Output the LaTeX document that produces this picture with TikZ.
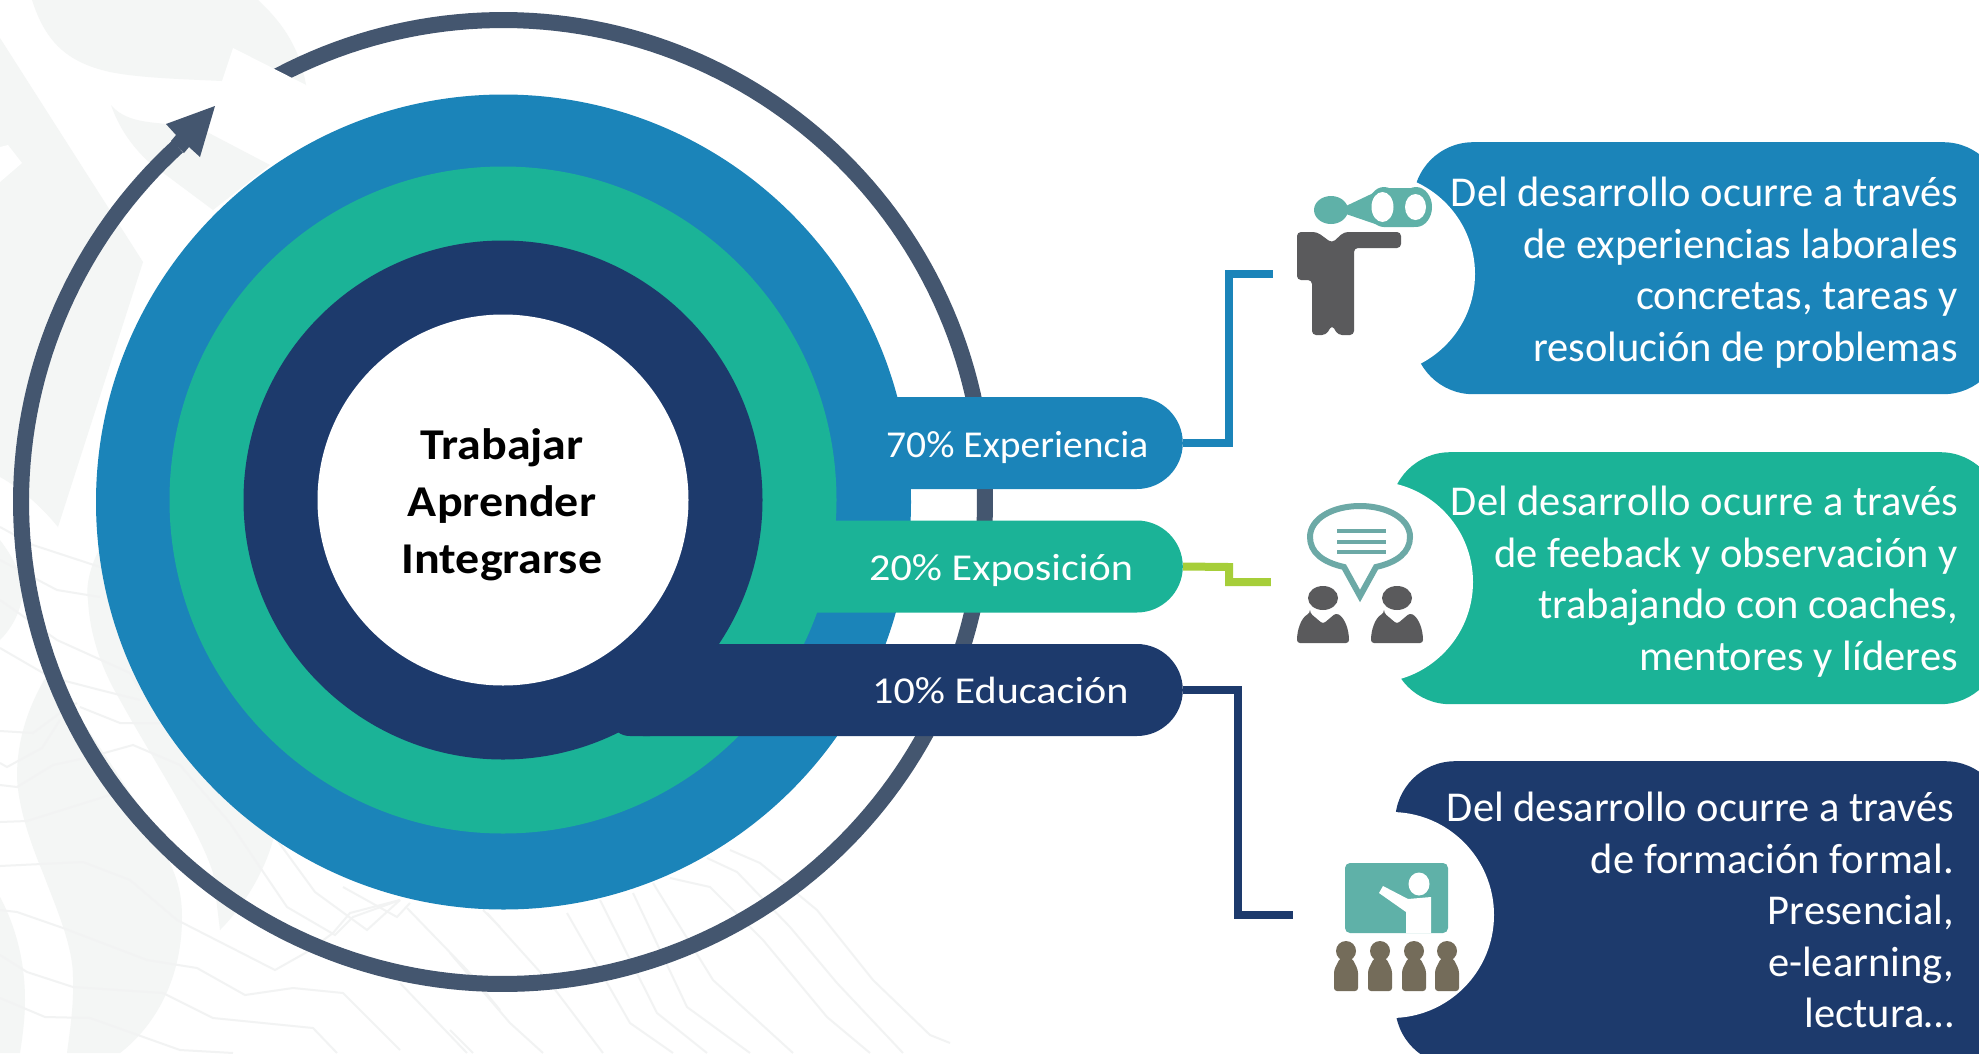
\documentclass[tikz,border=0pt]{standalone}
\usepackage{fontspec}
\setmainfont{Carlito}
\newfontfamily\labA[FakeStretch=1.04]{Carlito}
\newfontfamily\labB[FakeStretch=1.11]{Carlito}
\newfontfamily\hubfont[FakeStretch=1.09]{Carlito}
\usetikzlibrary{shapes.misc}
\definecolor{cblue}{HTML}{1B84B9}
\definecolor{cgreen}{HTML}{1BB397}
\definecolor{cnavy}{HTML}{1D3A6C}
\definecolor{cring}{HTML}{44566F}
\definecolor{clime}{HTML}{A6CE39}
\definecolor{cteal}{HTML}{5FB1A8}
\definecolor{cbub}{HTML}{6CA9A6}
\definecolor{cgrey}{HTML}{5A5A5C}
\definecolor{cbrown}{HTML}{746C5A}
\definecolor{wm}{HTML}{F4F6F5}
\definecolor{wl}{HTML}{F2F3F3}
\tikzset{
  disc/.style={circle,inner sep=0pt,draw=none},
  pill/.style={rounded rectangle,rounded rectangle west arc=none,inner sep=0pt,minimum height=92pt,anchor=east},
  boxnode/.style={rectangle,rounded corners=60pt,inner sep=0pt,anchor=north west},
  iconspot/.style={circle,fill=white,inner sep=0pt,minimum size=202pt},
  link/.style={line width=8pt,line join=miter},
  plabel/.style={text=white,inner sep=0pt,anchor=base west},
  btext/.style={text=white,inner sep=0pt,anchor=north east,align=right,font=\fontsize{42.5}{51.5}\selectfont},
  wline/.style={draw=wl,line width=2pt,line join=miter},
}
\begin{document}
\begin{tikzpicture}[x=1pt,y=-1pt]
\useasboundingbox (0,0) rectangle (1979,1053);
\clip (0,0) rectangle (1979,1053);
\fill[white] (0,0) rectangle (1979,1053);
% watermark
\fill[wm] (32,0) .. controls (45,40) and (65,62) .. (110,72) .. controls (140,78) and (180,79) .. (222,81) -- (306,85) .. controls (300,50) and (285,25) .. (258,0) -- cycle;
\fill[wm] (111,105) .. controls (125,122) and (150,122) .. (166,124) -- (207,132) -- (270,165) -- (213,210) -- (150,163) .. controls (130,145) and (118,125) .. (111,105) -- cycle;
\fill[wm] (0,38) -- (143,262) -- (58,527) .. controls (40,505) and (20,488) .. (0,477) -- cycle;
\fill[white] (0,147) -- (8,145) -- (22,163) -- (0,182) -- cycle;
\fill[wm] (0,540) .. controls (15,560) and (22,575) .. (23,593) .. controls (20,615) and (10,630) .. (0,640) -- cycle;
\fill[wm] (100,548) .. controls (88,570) and (86,590) .. (88,600) .. controls (90,640) and (105,675) .. (120,700) .. controls (150,755) and (200,830) .. (213,873) -- (220,930) .. controls (245,905) and (265,870) .. (273,840) -- (300,600) -- cycle;
\fill[wm] (50,670) .. controls (25,710) and (17,745) .. (17,777) .. controls (18,800) and (25,830) .. (43,873) .. controls (55,905) and (73,945) .. (73,977) .. controls (74,1005) and (70,1030) .. (67,1053) -- (120,1053) .. controls (150,1030) and (182,985) .. (182,917) .. controls (182,890) and (175,875) .. (170,863) .. controls (140,800) and (85,730) .. (50,670) -- cycle;
\fill[wm] (0,897) .. controls (15,925) and (25,960) .. (25,1000) .. controls (25,1020) and (22,1040) .. (20,1053) -- (0,1053) -- cycle;
\draw[wline] (0,866) -- (83,862) -- (130,880) -- (177,920) -- (275,970) -- (307,952) -- (333,933) -- (350,913) -- (400,900);
\draw[wline] (0,910) -- (17,912) -- (63,928) -- (147,960) -- (197,968) -- (245,995) -- (293,988) -- (343,993) -- (400,1050);
\draw[wline] (0,955) -- (27,972) -- (73,987) -- (163,993) -- (213,1018) -- (313,1028) -- (337,1053);
\draw[wline] (0,998) -- (45,1017) -- (90,1018) -- (180,1050) -- (233,1053);
\draw[wline] (0,822) -- (27,821) -- (110,795);
\draw[wline] (0,785) -- (17,787) -- (53,765) -- (90,757) -- (133,745) -- (180,765) -- (230,823) -- (287,907) -- (335,935) -- (353,917) -- (400,900);
\draw[wline] (0,763) -- (7,767) -- (42,748) -- (60,720);
\draw[wline] (0,731) -- (33,733) -- (60,713) -- (77,703);
\draw[wline] (80,707) -- (120,723) -- (160,723);
\draw[wline] (0,527) -- (33,545) -- (100,567);
\draw[wline] (0,560) -- (57,590) -- (100,597);
\draw[wline] (0,600) -- (57,640) -- (130,673) -- (140,690);
\draw[wline] (0,648) -- (50,677) -- (100,690) -- (140,700);
\draw[wline] (487,913) -- (550,983) -- (603,1053);
\draw[wline] (567,913) -- (630,1023) -- (673,1053);
\draw[wline] (600,900) -- (657,1013) -- (707,1053);
\draw[wline] (633,893) -- (687,1007) -- (750,1053);
\draw[wline] (653,883) -- (713,980) -- (793,1053);
\draw[wline] (670,878) -- (710,887) -- (763,940) -- (827,1017) -- (870,1053);
\draw[wline] (707,858) -- (737,872) -- (790,927) -- (837,983) -- (903,1053);
\draw[wline] (730,850) -- (760,863) -- (817,910) -- (873,980) -- (930,1035) -- (950,1043);
\draw[wline] (450,953) -- (510,1023) -- (543,1053);
\draw[wline] (450,1030) -- (473,1053);
\draw[wline] (277,840) -- (315,892) -- (367,930) -- (400,900);
\draw[wline] (343,887) -- (397,917) -- (410,903);
\draw[wline] (407,908) -- (467,970) -- (500,1010);
\draw[wline] (400,983) -- (467,1053);
\draw[wline] (483,910) -- (500,927);
% ring with arrow
\draw[cring,line width=16pt] plot[domain=125:-227.5,samples=240] ({503+482*cos(\x)},{502-482*sin(\x)});
\fill[white] (222,81) -- (233,48) -- (306,85) -- (240,145) -- (190,100) -- cycle;
\fill[cring] (215,106) -- (166,124) -- (176,135) -- (171,141) -- (184,153) -- (189,147) -- (200,157) -- cycle;
% discs
\node[disc,fill=cblue,minimum size=815pt] (d1) at (503.5,502) {};
\node[disc,fill=cgreen,minimum size=667pt] (d2) at (503,500) {};
\node[disc,fill=cnavy,minimum size=519pt] (d3) at (503,500) {};
% pills
\node[pill,fill=cblue,minimum width=303pt] (p1) at (1183,443) {};
\node[pill,fill=cgreen,minimum width=400pt] (p2) at (1183,566.5) {};
\node[pill,fill=cnavy,minimum width=540pt] (p3) at (1183,690) {};
\fill[cnavy] (650,644) -- (610,644) -- (610,722) .. controls (614,730) and (620,736) .. (630,736) -- (650,736) -- cycle;
\node[disc,fill=white,minimum size=371pt] (hub) at (503,500) {};
\node[inner sep=0pt,align=center,font=\hubfont\bfseries\fontsize{44}{57}\selectfont,text=black] (hubt) at (502,505) {Trabajar\\Aprender\\Integrarse};
\node[plabel,font=\labA\fontsize{38}{44}\selectfont] (l1) at (886,457) {70\% Experiencia};
\node[plabel,font=\labB\fontsize{38}{44}\selectfont] (l2) at (869,580) {20\% Exposición};
\node[plabel,font=\labB\fontsize{38}{44}\selectfont] (l3) at (872,703) {10\% Educación};
% boxes
\node[boxnode,fill=cblue,minimum width=590pt,minimum height=252pt] (b1) at (1413,142) {};
\node[boxnode,fill=cgreen,minimum width=610pt,minimum height=252pt] (b2) at (1390,452) {};
\node[boxnode,fill=cnavy,minimum width=610pt,minimum height=304pt] (b3) at (1395,761) {};
\node[iconspot] (c1) at (1374,274) {};
\node[iconspot] (c2) at (1372,582) {};
\node[iconspot,minimum size=206pt] (c3) at (1391,915) {};
\node[btext] (t1) at (1958,177) {Del desarrollo ocurre a través\\de experiencias laborales\\concretas, tareas y\\resolución de problemas};
\node[btext] (t2) at (1958,486) {Del desarrollo ocurre a través\\de feeback y observación y\\trabajando con coaches,\\mentores y líderes};
\node[btext] (t3) at (1954,792) {Del desarrollo ocurre a través\\de formación formal.\\Presencial,\\e-learning,\\lectura…};
% connectors
\coordinate (j1a) at (1229,443);
\coordinate (j1b) at (1229,274);
\coordinate (j2a) at (1229,567);
\coordinate (j2b) at (1229,582);
\coordinate (j3a) at (1238,690);
\coordinate (j3b) at (1238,915);
\draw[link,cblue] (p1.east) -- (j1a) -- (j1b) -- (c1.west);
\draw[link,clime] (p2.east) -- (j2a) -- (j2b) -- (c2.west);
\draw[link,cnavy] (p3.east) -- (j3a) -- (j3b) -- ([xshift=5pt]c3.west);
% icon 1
\fill[cteal] (1331,210) ellipse [x radius=17,y radius=14];
\fill[cteal] (1346,206) -- (1384,188) -- (1414,188) -- (1414,227) -- (1384,227) -- (1346,214) -- cycle;
\fill[cteal] (1384,207) ellipse [x radius=16,y radius=20];
\fill[cteal] (1416,207) ellipse [x radius=16,y radius=20];
\fill[white] (1382.5,207) ellipse [x radius=11,y radius=15];
\fill[white] (1415.5,207) ellipse [x radius=10.5,y radius=13];
\fill[cgrey,rounded corners=4pt] (1317,232) -- (1332,243) -- (1344,232) -- (1401,232) -- (1401,248) -- (1354,248) -- (1354,335) -- (1338,335) -- (1332,325) -- (1326,335) -- (1312,335) -- (1312,280) -- (1297,280) -- (1297,232) -- cycle;
% icon 2
\draw[cbub,line width=6pt,fill=white] (1344,567) .. controls (1322,562) and (1310,552) .. (1310,537) .. controls (1310,519) and (1332,506) .. (1360,506) .. controls (1388,506) and (1410,519) .. (1410,537) .. controls (1410,552) and (1398,562) .. (1376,567) -- (1360,596) -- cycle;
\foreach \yy in {531,542,552} \draw[cbub,line width=4.5pt] (1337,\yy) -- (1386,\yy);
\foreach \xx in {1323,1397}{
  \fill[cgrey] (\xx,598) ellipse [x radius=15,y radius=12];
  \fill[cgrey,rounded corners=3pt] (\xx-13,613) -- (\xx,624) -- (\xx+13,613) .. controls (\xx+22,618) and (\xx+26,630) .. (\xx+26,643) -- (\xx-26,643) .. controls (\xx-26,630) and (\xx-22,618) .. (\xx-13,613) -- cycle;
}
% icon 3
\fill[cteal,rounded corners=5pt] (1345,863) rectangle (1448,933);
\fill[white] (1419,884) ellipse [x radius=10.5,y radius=11.5];
\fill[white] (1431,897) -- (1431,933) -- (1406,933) -- (1406,912) -- (1379,893) -- (1383,886) -- (1408,899) -- cycle;
\foreach \xx in {1346,1380,1414,1447}{
  \fill[cbrown] (\xx,951) ellipse [x radius=10,y radius=10];
  \fill[cbrown,rounded corners=3pt] (\xx-6,958) -- (\xx+6,958) -- (\xx+12,970) -- (\xx+12,991) -- (\xx-12,991) -- (\xx-12,970) -- cycle;
}
\end{tikzpicture}
\end{document}
